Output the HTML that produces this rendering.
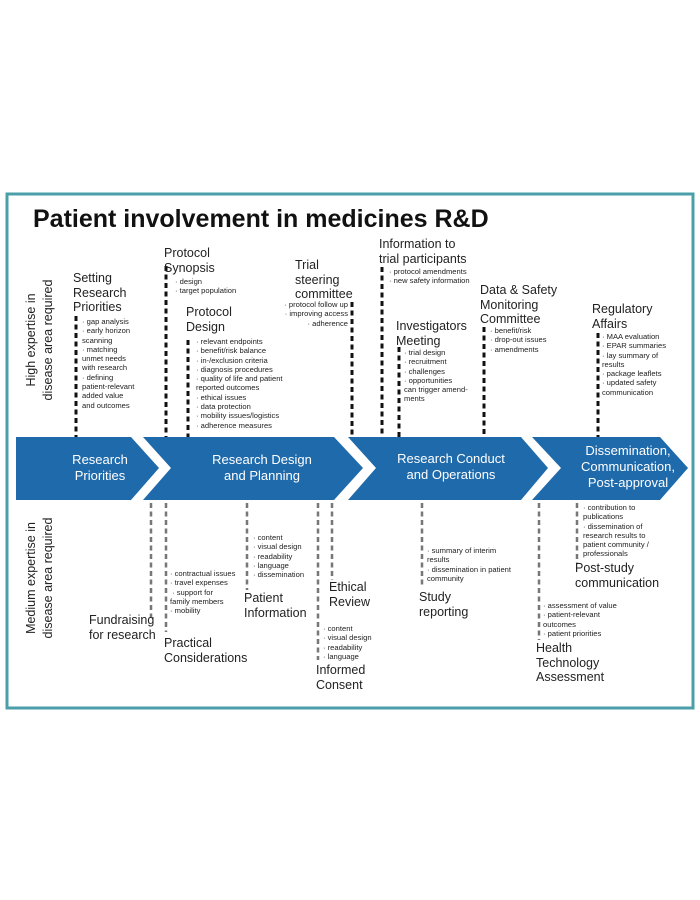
<!DOCTYPE html>
<html><head><meta charset="utf-8"><style>
body{margin:0;width:700px;height:900px;background:#fff;position:relative;overflow:hidden;font-family:"Liberation Sans",sans-serif;color:#222}
.t{position:absolute;white-space:nowrap}
.h{font-size:12.5px;line-height:14.5px;color:#222}
.s{font-size:7.6px;line-height:9.3px;color:#222}
.w{color:#fff;font-size:13px;line-height:16px;text-align:center}
</style></head><body>
<svg width="700" height="900" style="position:absolute;left:0;top:0">
<rect x="7" y="194" width="686" height="514" fill="none" stroke="#4a9fa8" stroke-width="3"/>
<g fill="#1f6aab">
<polygon points="16,437 131,437 159,468 131,500 16,500"/>
<polygon points="143,437 334,437 363,468 334,500 143,500 171,468"/>
<polygon points="348,437 521,437 548,468 521,500 348,500 376,468"/>
<polygon points="532,437 660,437 688,468 660,500 532,500 561,468"/>
</g>
<g stroke="#111" stroke-width="3" stroke-dasharray="5 3.5">
<line x1="76" y1="316" x2="76" y2="437"/>
<line x1="166" y1="266" x2="166" y2="437"/>
<line x1="188" y1="340" x2="188" y2="437"/>
<line x1="352" y1="302" x2="352" y2="437"/>
<line x1="382" y1="267" x2="382" y2="437"/>
<line x1="399" y1="347" x2="399" y2="437"/>
<line x1="484" y1="327" x2="484" y2="437"/>
<line x1="598" y1="333" x2="598" y2="437"/>
</g>
<g stroke="#777" stroke-width="2.5" stroke-dasharray="5 3.5">
<line x1="151" y1="503" x2="151" y2="618"/>
<line x1="166" y1="503" x2="166" y2="632"/>
<line x1="247" y1="503" x2="247" y2="590"/>
<line x1="318" y1="503" x2="318" y2="660"/>
<line x1="332" y1="503" x2="332" y2="580"/>
<line x1="422" y1="503" x2="422" y2="588"/>
<line x1="539" y1="503" x2="539" y2="640"/>
<line x1="577" y1="503" x2="577" y2="563"/>
</g>
</svg>
<div class="t" style="left:33px;top:205px;font-size:25px;font-weight:bold;color:#111">Patient involvement in medicines R&amp;D</div>
<div class="t" style="left:40px;top:340px;transform:translate(-50%,-50%) rotate(-90deg);font-size:12.5px;line-height:17px;text-align:center">High expertise in<br>disease area required</div>
<div class="t" style="left:40px;top:578px;transform:translate(-50%,-50%) rotate(-90deg);font-size:12.5px;line-height:17px;text-align:center">Medium expertise in<br>disease area required</div>

<div class="t h" style="left:73px;top:271px">Setting<br>Research<br>Priorities</div>
<div class="t s" style="left:82px;top:317px">· gap analysis<br>· early horizon<br>scanning<br>· matching<br>unmet needs<br>with research<br>· defining<br>patient-relevant<br>added value<br>and outcomes</div>

<div class="t h" style="left:164px;top:246px">Protocol<br>Synopsis</div>
<div class="t s" style="left:175px;top:277px">· design<br>· target population</div>
<div class="t h" style="left:186px;top:305px">Protocol<br>Design</div>
<div class="t s" style="left:196px;top:337px">· relevant endpoints<br>· benefit/risk balance<br>· in-/exclusion criteria<br>· diagnosis procedures<br>· quality of life and patient<br>reported outcomes<br>· ethical issues<br>· data protection<br>· mobility issues/logistics<br>· adherence measures</div>

<div class="t h" style="left:295px;top:258px">Trial<br>steering<br>committee</div>
<div class="t s" style="left:260px;top:300px;width:88px;text-align:right">· protocol follow up<br>· improving access<br>· adherence</div>

<div class="t h" style="left:379px;top:237px">Information to<br>trial participants</div>
<div class="t s" style="left:389px;top:267px">· protocol amendments<br>· new safety information</div>
<div class="t h" style="left:396px;top:319px">Investigators<br>Meeting</div>
<div class="t s" style="left:404px;top:348px">· trial design<br>· recruitment<br>· challenges<br>· opportunities<br>can trigger amend-<br>ments</div>

<div class="t h" style="left:480px;top:283px">Data &amp; Safety<br>Monitoring<br>Committee</div>
<div class="t s" style="left:490px;top:326px">· benefit/risk<br>· drop-out issues<br>· amendments</div>

<div class="t h" style="left:592px;top:302px">Regulatory<br>Affairs</div>
<div class="t s" style="left:602px;top:332px">· MAA evaluation<br>· EPAR summaries<br>· lay summary of<br>results<br>· package leaflets<br>· updated safety<br>communication</div>

<div class="t w" style="left:100px;top:452px;transform:translateX(-50%)">Research<br>Priorities</div>
<div class="t w" style="left:262px;top:452px;transform:translateX(-50%)">Research Design<br>and Planning</div>
<div class="t w" style="left:451px;top:451px;transform:translateX(-50%)">Research Conduct<br>and Operations</div>
<div class="t w" style="left:628px;top:443px;transform:translateX(-50%)">Dissemination,<br>Communication,<br>Post-approval</div>

<div class="t h" style="left:89px;top:613px">Fundraising<br>for research</div>
<div class="t s" style="left:170px;top:569px">· contractual issues<br>· travel expenses<br>&nbsp;· support for<br>family members<br>· mobility</div>
<div class="t h" style="left:164px;top:636px">Practical<br>Considerations</div>
<div class="t s" style="left:253px;top:533px">· content<br>· visual design<br>· readability<br>· language<br>· dissemination</div>
<div class="t h" style="left:244px;top:591px">Patient<br>Information</div>
<div class="t h" style="left:329px;top:580px">Ethical<br>Review</div>
<div class="t s" style="left:323px;top:624px">· content<br>· visual design<br>· readability<br>· language</div>
<div class="t h" style="left:316px;top:663px">Informed<br>Consent</div>
<div class="t s" style="left:427px;top:546px">· summary of interim<br>results<br>· dissemination in patient<br>community</div>
<div class="t h" style="left:419px;top:590px">Study<br>reporting</div>
<div class="t s" style="left:583px;top:503px">· contribution to<br>publications<br>· dissemination of<br>research results to<br>patient community /<br>professionals</div>
<div class="t h" style="left:575px;top:561px">Post-study<br>communication</div>
<div class="t s" style="left:543px;top:601px">· assessment of value<br>· patient-relevant<br>outcomes<br>· patient priorities</div>
<div class="t h" style="left:536px;top:641px">Health<br>Technology<br>Assessment</div>
</body></html>
